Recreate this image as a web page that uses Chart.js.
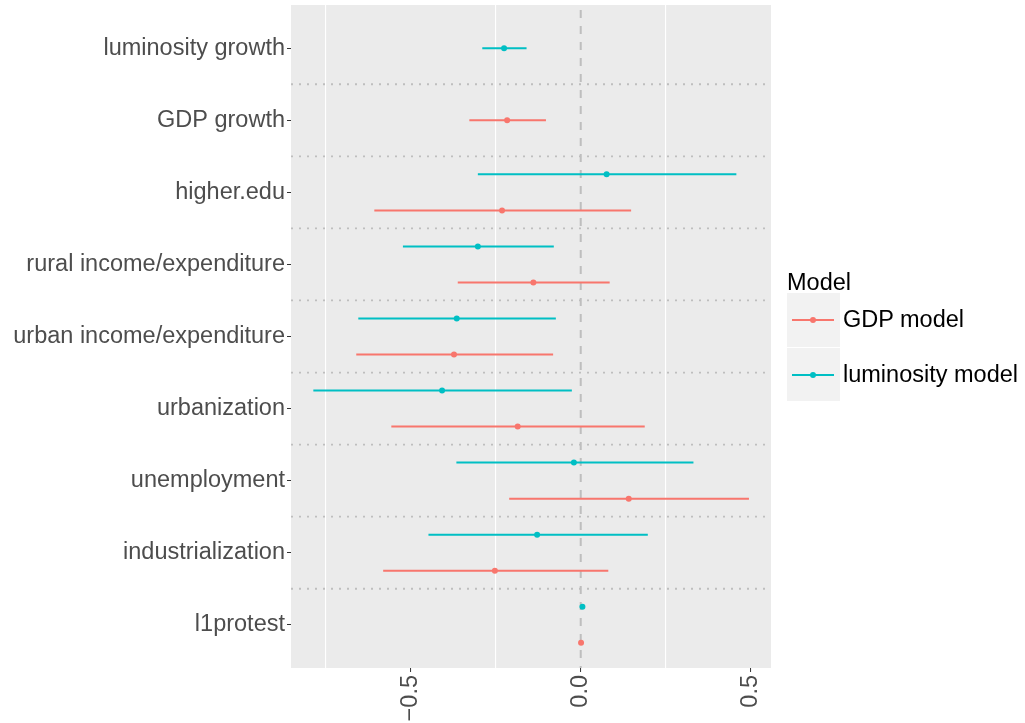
<!DOCTYPE html>
<html>
<head>
<meta charset="utf-8">
<script src="https://cdn.jsdelivr.net/npm/chart.js@4.4.1/dist/chart.umd.min.js"></script>
<style>
  html, body { margin: 0; padding: 0; background: #ffffff; }
  body { width: 1025px; height: 723px; position: relative; overflow: hidden;
         font-family: "Liberation Sans", Arial, sans-serif; }
  #chart { position: absolute; left: 0; top: 0; display: block; }
  .lg { position: absolute; font-size: 23.5px; line-height: 23.5px; color: #000; white-space: nowrap; }
  .key { position: absolute; background: #F2F2F2; }
  .key-line { position: absolute; height: 2px; }
  .key-dot { position: absolute; width: 6px; height: 6px; border-radius: 50%; }
</style>
</head>
<body>
<canvas id="chart" width="1025" height="723"></canvas>
<div id="legend"></div>
<script>
// Coefficient estimates with confidence intervals, one row per predictor (top to bottom)
const categories = [
  'luminosity growth',
  'GDP growth',
  'higher.edu',
  'rural income/expenditure',
  'urban income/expenditure',
  'urbanization',
  'unemployment',
  'industrialization',
  'l1protest'
];

const gdpEst = [null, -0.216, -0.231, -0.139, -0.372, -0.185,  0.141, -0.252,  0.001];
const gdpLo  = [null, -0.327, -0.606, -0.361, -0.659, -0.556, -0.210, -0.580, -0.001];
const gdpHi  = [null, -0.102,  0.148,  0.085, -0.081,  0.188,  0.494,  0.081,  0.003];

const lumEst = [-0.225, null,  0.076, -0.302, -0.364, -0.407, -0.020, -0.128, 0.005];
const lumLo  = [-0.289, null, -0.302, -0.522, -0.653, -0.785, -0.365, -0.447, 0.002];
const lumHi  = [-0.159, null,  0.457, -0.079, -0.073, -0.026,  0.331,  0.197, 0.008];

const modelNames  = ['GDP model', 'luminosity model'];
const modelColors = ['#F8766D', '#00BFC4'];

const xMajorTicks = [-0.5, 0, 0.5];
const xMinorTicks = [-0.75, -0.25, 0.25];
const xLimits = [-0.8506, 0.5587];

// ---- derived layout of rows (position-dodged when both models are present) ----
const nCat = categories.length;
const DODGE = 0.25;
function rowPos(i) { return nCat - i; }
function yFor(i, model) {
  const both = gdpEst[i] !== null && lumEst[i] !== null;
  if (!both) return rowPos(i);
  return rowPos(i) + (model === 1 ? DODGE : -DODGE);
}

function buildSeries(model, est, lo, hi) {
  const pts = [], segs = [];
  for (let i = 0; i < nCat; i++) {
    if (est[i] === null) continue;
    const y = yFor(i, model);
    pts.push({ x: est[i], y: y });
    segs.push({ x: lo[i], y: y }, { x: hi[i], y: y }, { x: NaN, y: null });
  }
  return { pts, segs };
}
const gdp = buildSeries(0, gdpEst, gdpLo, gdpHi);
const lum = buildSeries(1, lumEst, lumLo, lumHi);

const FONT = '"Liberation Sans", Arial, sans-serif';
const AXIS_TEXT = '#4D4D4D';

// Grey panel, dotted row separators and the dashed reference line at zero
const panelPlugin = {
  id: 'panel',
  beforeDraw(chart) {
    const a = chart.chartArea, ctx = chart.ctx;
    ctx.save();
    ctx.fillStyle = '#EBEBEB';
    ctx.fillRect(a.left, a.top, a.right - a.left, a.bottom - a.top);
    ctx.restore();
  },
  beforeDatasetsDraw(chart) {
    const a = chart.chartArea, ctx = chart.ctx;
    const xs = chart.scales.x, ys = chart.scales.y;
    ctx.save();
    ctx.beginPath();
    ctx.rect(a.left, a.top, a.right - a.left, a.bottom - a.top);
    ctx.clip();
    // row separators
    ctx.strokeStyle = '#BEBEBE';
    ctx.lineWidth = 1.8;
    ctx.setLineDash([2, 6]);
    ctx.lineDashOffset = 0;
    for (let k = 1; k < nCat; k++) {
      const py = ys.getPixelForValue(k + 0.5);
      ctx.beginPath();
      ctx.moveTo(a.left, py);
      ctx.lineTo(a.right, py);
      ctx.stroke();
    }
    // zero line
    const px = xs.getPixelForValue(0);
    ctx.strokeStyle = '#BEBEBE';
    ctx.lineWidth = 2;
    ctx.setLineDash([8, 8]);
    ctx.lineDashOffset = 11;
    ctx.beginPath();
    ctx.moveTo(px, a.top);
    ctx.lineTo(px, a.bottom);
    ctx.stroke();
    ctx.restore();
  }
};

const allXTicks = xMinorTicks.concat(xMajorTicks).sort((p, q) => p - q);
const isMajor = v => xMajorTicks.some(t => Math.abs(t - v) < 1e-9);

new Chart(document.getElementById('chart'), {
  type: 'scatter',
  data: {
    datasets: [
      { label: modelNames[0], data: gdp.pts, backgroundColor: modelColors[0], borderColor: modelColors[0],
        pointRadius: 3, pointBorderWidth: 0, pointHoverRadius: 3, showLine: false },
      { label: modelNames[1], data: lum.pts, backgroundColor: modelColors[1], borderColor: modelColors[1],
        pointRadius: 3, pointBorderWidth: 0, pointHoverRadius: 3, showLine: false },
      { label: modelNames[0] + ' CI', data: gdp.segs, borderColor: modelColors[0], borderWidth: 2,
        pointRadius: 0, showLine: true, spanGaps: false, borderCapStyle: 'butt' },
      { label: modelNames[1] + ' CI', data: lum.segs, borderColor: modelColors[1], borderWidth: 2,
        pointRadius: 0, showLine: true, spanGaps: false, borderCapStyle: 'butt' }
    ]
  },
  options: {
    responsive: false,
    animation: false,
    devicePixelRatio: 1,
    layout: { padding: { left: 0, top: 5, right: 254, bottom: 0 } },
    plugins: { legend: { display: false }, tooltip: { enabled: false } },
    scales: {
      x: {
        type: 'linear',
        min: xLimits[0],
        max: xLimits[1],
        afterBuildTicks(scale) { scale.ticks = allXTicks.map(v => ({ value: v })); },
        afterFit(scale) { scale.height = 55; scale.paddingLeft = 0; scale.paddingRight = 0; },
        border: { display: false },
        grid: {
          color: ctx => isMajor(ctx.tick.value) ? 'rgba(0,0,0,0)' : '#FFFFFF',
          lineWidth: 1.1,
          tickColor: ctx => isMajor(ctx.tick.value) ? '#333333' : 'rgba(0,0,0,0)',
          tickLength: 4,
          tickWidth: 1
        },
        ticks: {
          autoSkip: false,
          minRotation: 90,
          maxRotation: 90,
          padding: 3,
          color: AXIS_TEXT,
          font: { family: FONT, size: 23.5 },
          callback: v => isMajor(v) ? v.toFixed(1).replace('-', '\u2212') : ''
        }
      },
      y: {
        type: 'linear',
        min: 0.4,
        max: nCat + 0.6,
        afterBuildTicks(scale) {
          scale.ticks = categories.map((c, i) => ({ value: rowPos(i) }));
        },
        afterFit(scale) { scale.width = 291; scale.paddingTop = 0; scale.paddingBottom = 0; },
        border: { display: false },
        grid: {
          drawOnChartArea: false,
          drawTicks: true,
          tickLength: 4,
          tickColor: '#333333',
          tickWidth: 1
        },
        ticks: {
          autoSkip: false,
          padding: 2,
          color: AXIS_TEXT,
          font: { family: FONT, size: 23.5 },
          callback: v => categories[nCat - v]
        }
      }
    }
  },
  plugins: [panelPlugin]
});

// Legend (ggplot style: title, grey key boxes with line + point glyphs)
(function buildLegend() {
  const host = document.getElementById('legend');
  const title = document.createElement('div');
  title.className = 'lg';
  title.style.left = '787px';
  title.style.top = '271px';
  title.textContent = 'Model';
  host.appendChild(title);
  const boxTop = 293.3, boxH = 53.3, gap = 1.5;
  modelNames.forEach((name, k) => {
    const top = boxTop + k * (boxH + gap);
    const cy = top + boxH / 2;
    const box = document.createElement('div');
    box.className = 'key';
    box.style.left = '787px'; box.style.top = top + 'px';
    box.style.width = '53px'; box.style.height = boxH + 'px';
    host.appendChild(box);
    const line = document.createElement('div');
    line.className = 'key-line';
    line.style.left = '791.7px'; line.style.width = '42.6px';
    line.style.top = (cy - 1) + 'px';
    line.style.background = modelColors[k];
    host.appendChild(line);
    const dot = document.createElement('div');
    dot.className = 'key-dot';
    dot.style.left = (813 - 3) + 'px'; dot.style.top = (cy - 3) + 'px';
    dot.style.background = modelColors[k];
    host.appendChild(dot);
    const lab = document.createElement('div');
    lab.className = 'lg';
    lab.style.left = '843px';
    lab.style.top = (cy - 12) + 'px';
    lab.textContent = name;
    host.appendChild(lab);
  });
})();
</script>
</body>
</html>
